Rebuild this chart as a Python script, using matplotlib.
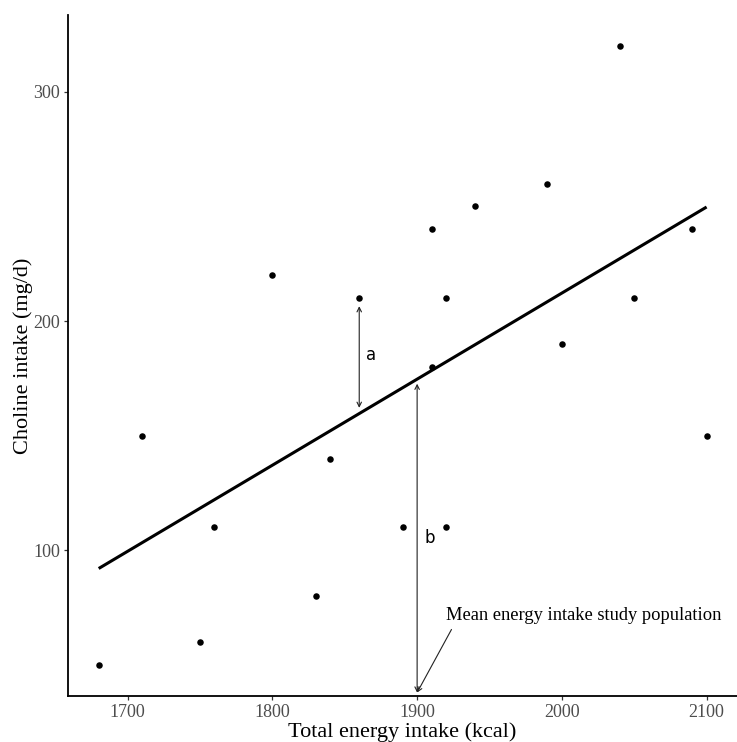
import matplotlib
matplotlib.use("Agg")
import matplotlib.pyplot as plt
import numpy as np

# data
energy = [1680, 1710, 1750, 1760, 1800, 1830, 1840, 1860, 1890, 1910,
          1910, 1920, 1920, 1940, 1990, 2000, 2040, 2050, 2090, 2100]
choline = [50, 150, 60, 110, 220, 80, 140, 210, 110, 240,
           180, 210, 110, 250, 260, 190, 320, 210, 240, 150]
x_ticks = [1700, 1800, 1900, 2000, 2100]
y_ticks = [100, 200, 300]
mean_energy = 1900

x = np.array(energy, dtype=float)
y = np.array(choline, dtype=float)
slope, icpt = np.polyfit(x, y, 1)

plt.rcParams['font.family'] = ['Liberation Serif', 'DejaVu Serif']

fig = plt.figure(figsize=(7.37, 7.42), dpi=100)
ax = fig.add_axes([68.3 / 737, 46 / 742, 1 - 68.3 / 737, (696 - 15) / 742])

# regression line over the data range
xs = np.array([x.min(), x.max()])
ax.plot(xs, icpt + slope * xs, color='black', lw=2.2, solid_capstyle='butt', zorder=3)
ax.scatter(x, y, s=22, color='black', zorder=4, linewidths=0)

# ggplot style 5% expansion
xr = x.max() - x.min()
yr = y.max() - y.min()
ax.set_xlim(x.min() - 0.05 * xr, x.max() + 0.05 * xr)
ax.set_ylim(y.min() - 0.05 * yr, y.max() + 0.05 * yr)
ymin = ax.get_ylim()[0]

arr = dict(arrowstyle='<->', color='#222222', lw=0.8, shrinkA=0, shrinkB=0,
           mutation_scale=8)

# a: distance from the point to the line
xa = 1860
ax.annotate('', xy=(xa, 206.5), xytext=(xa, icpt + slope * xa + 2.5), arrowprops=arr)
ax.text(xa + 5, 185, 'a', family='DejaVu Sans', fontsize=12, va='center', ha='left')

# b: line value at the mean energy intake
ax.annotate('', xy=(mean_energy, icpt + slope * mean_energy - 2),
            xytext=(mean_energy, ymin + 1.5), arrowprops=arr)
ax.text(mean_energy + 5, 105.5, 'b', family='DejaVu Sans', fontsize=12,
        va='center', ha='left')

ax.annotate('Mean energy intake study population', xy=(mean_energy, ymin + 1.5),
            xytext=(1920, 71.5), fontsize=13.3, va='center', ha='left',
            arrowprops=dict(arrowstyle='->', color='#222222', lw=0.8,
                            shrinkA=2, shrinkB=0, mutation_scale=8,
                            relpos=(0.03, 0.0)))

ax.set_xticks(x_ticks)
ax.set_yticks(y_ticks)
ax.tick_params(labelsize=13, labelcolor='#4d4d4d', color='#333333',
               length=3, width=0.9, pad=3)
for side in ['top', 'right']:
    ax.spines[side].set_visible(False)
for side in ['left', 'bottom']:
    ax.spines[side].set_linewidth(1.3)

ax.set_xlabel('Total energy intake (kcal)', fontsize=16, labelpad=0.5)
ax.set_ylabel('Choline intake (mg/d)', fontsize=16, labelpad=0)

fig.savefig('out.png', dpi=100)
